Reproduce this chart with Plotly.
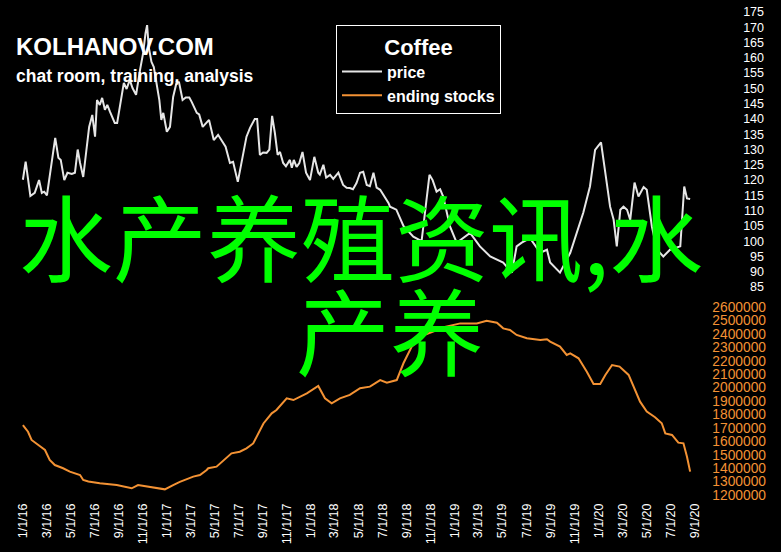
import plotly.graph_objects as go

price_dates = ["2016-01-01","2016-01-08","2016-01-20","2016-01-31","2016-02-11","2016-02-18","2016-02-24","2016-03-02","2016-03-23","2016-03-31","2016-04-06","2016-04-15","2016-04-23","2016-05-04","2016-05-12","2016-05-19","2016-05-25","2016-06-02","2016-06-17","2016-06-25","2016-07-02","2016-07-07","2016-07-14","2016-07-20","2016-07-27","2016-08-02","2016-08-09","2016-08-21","2016-08-27","2016-09-07","2016-09-13","2016-09-20","2016-09-28","2016-10-05","2016-10-14","2016-10-24","2016-11-01","2016-11-07","2016-11-11","2016-11-15","2016-11-22","2016-11-28","2016-12-05","2016-12-12","2016-12-17","2016-12-22","2016-12-31","2017-01-08","2017-01-16","2017-01-25","2017-01-31","2017-02-09","2017-02-17","2017-02-26","2017-03-04","2017-03-17","2017-03-23","2017-04-01","2017-04-17","2017-04-29","2017-05-10","2017-05-21","2017-05-29","2017-06-09","2017-06-17","2017-06-29","2017-07-09","2017-07-21","2017-07-30","2017-08-11","2017-08-17","2017-08-24","2017-09-01","2017-09-10","2017-09-17","2017-09-24","2017-10-01","2017-10-08","2017-10-14","2017-10-22","2017-10-29","2017-11-08","2017-11-13","2017-11-18","2017-11-25","2017-12-02","2017-12-10","2017-12-19","2017-12-29","2018-01-09","2018-01-19","2018-01-23","2018-02-01","2018-02-08","2018-02-18","2018-02-26","2018-03-11","2018-03-23","2018-04-01","2018-04-09","2018-04-17","2018-04-26","2018-05-05","2018-05-13","2018-05-22","2018-05-30","2018-06-08","2018-06-16","2018-06-25","2018-07-03","2018-07-16","2018-07-20","2018-08-05","2018-08-23","2018-09-17","2018-10-08","2018-10-28","2018-11-05","2018-11-15","2018-11-24","2018-12-02","2018-12-19","2019-01-05","2019-02-08","2019-03-05","2019-03-31","2019-05-03","2019-05-25","2019-06-06","2019-06-19","2019-07-10","2019-08-05","2019-08-22","2019-08-30","2019-09-24","2019-10-20","2019-11-22","2019-12-09","2019-12-22","2020-01-06","2020-01-16","2020-01-29","2020-02-07","2020-02-15","2020-02-24","2020-03-03","2020-03-12","2020-03-20","2020-03-31","2020-04-10","2020-04-23","2020-05-01","2020-05-14","2020-05-27","2020-06-12","2020-06-29","2020-07-25","2020-08-04","2020-08-11","2020-08-19"]
price_values = [120.1,126,114.8,115.8,120,115.8,116.2,115,133.8,127.3,126.6,120,122.4,122,122.4,130,125.6,121,137.4,141.3,134.2,146.2,144.6,146.9,143,144.6,142.3,138.7,138.7,147.2,151.8,149.8,152.8,150.1,147.9,156,161.6,168.1,170.7,163.6,158.7,157,151.8,146.2,139.7,142,135.8,137.4,147.2,152.1,152,146.2,147,147,145.6,142,141.5,137.4,139.7,133.1,134.8,132.5,130.9,125.6,126,119.4,125.6,134.2,137.1,140,140,128.2,129,128.9,130,141,135.4,128.2,129.2,125.6,124.5,126.6,124,126.6,124.3,125.6,129.2,122.4,120,127.6,122.4,121.8,125,120.8,121.7,120.4,122.4,118.4,117.5,117.4,117,119,122.4,122.7,118.4,118,122.4,117.5,116.8,115.2,112.5,111.3,110.3,105,101.5,100,121.7,120,116.2,117,114.5,104.8,99.5,102.7,98.3,95,93,89.7,98.3,99.5,101,96.2,97.2,93,89.7,96.2,109.3,117.9,129.9,132.3,122.4,111.3,107,98.3,110.3,111.3,110.3,107,119.2,114.6,117.7,116.8,104.8,97.2,95,97.2,98.3,117.9,114,113.8]

stock_dates = ["2016-01-01","2016-01-14","2016-01-23","2016-02-13","2016-02-26","2016-03-09","2016-03-22","2016-04-12","2016-04-29","2016-05-25","2016-06-02","2016-06-15","2016-07-14","2016-08-26","2016-10-03","2016-10-19","2016-11-26","2016-12-26","2017-01-16","2017-02-02","2017-03-08","2017-03-25","2017-04-11","2017-04-15","2017-05-06","2017-06-13","2017-07-04","2017-07-21","2017-08-07","2017-09-02","2017-09-23","2017-10-05","2017-10-31","2017-11-17","2017-12-21","2018-01-19","2018-02-05","2018-02-22","2018-03-15","2018-04-09","2018-05-05","2018-05-30","2018-06-25","2018-07-12","2018-08-06","2018-08-23","2018-09-13","2018-10-16","2018-12-06","2019-01-14","2019-02-25","2019-03-22","2019-04-17","2019-05-03","2019-05-20","2019-06-06","2019-07-02","2019-08-05","2019-08-22","2019-08-30","2019-09-24","2019-10-11","2019-10-20","2019-11-10","2019-12-01","2019-12-18","2020-01-04","2020-01-17","2020-02-03","2020-02-22","2020-03-16","2020-04-14","2020-05-01","2020-05-22","2020-06-08","2020-06-17","2020-07-04","2020-07-20","2020-08-02","2020-08-11","2020-08-19"]
stock_values = [1721000,1671000,1610000,1560000,1535000,1461000,1423000,1399000,1374000,1349000,1312000,1300000,1287000,1274000,1250000,1274000,1255000,1242000,1274000,1298000,1337000,1349000,1386000,1399000,1411000,1510000,1522000,1547000,1584000,1733000,1808000,1833000,1920000,1907000,1957000,2012000,1920000,1883000,1920000,1945000,1995000,2007000,2056000,2036000,2056000,2181000,2305000,2392000,2451000,2478000,2478000,2498000,2483000,2441000,2429000,2392000,2367000,2354000,2360000,2342000,2305000,2243000,2255000,2218000,2118000,2027000,2027000,2094000,2168000,2156000,2094000,1895000,1821000,1779000,1734000,1659000,1647000,1590000,1585000,1485000,1374000]

price_ticks = list(range(85, 180, 5))
stock_ticks = list(range(1200000, 2700000, 100000))
stock_ticktext = [str(v) for v in stock_ticks]

PRICE_COLOR = "#e6e6e6"
STOCK_COLOR = "#f39234"

fig = go.Figure()
fig.add_trace(go.Scatter(x=price_dates, y=price_values, mode="lines", name="price",
                         line=dict(color=PRICE_COLOR, width=2), yaxis="y"))
fig.add_trace(go.Scatter(x=stock_dates, y=stock_values, mode="lines", name="ending stocks",
                         line=dict(color=STOCK_COLOR, width=2), yaxis="y2"))

L, R, T, B = 15, 8, 0, 52
W, H = 781, 552
PW, PH = W - L - R, H - T - B

def px(x):
    return (x - L) / PW

def py(y):
    return 1 - (y - T) / PH

fig.update_layout(
    width=W, height=H,
    margin=dict(l=L, r=R, t=T, b=B, autoexpand=False),
    paper_bgcolor="black", plot_bgcolor="black",
    font=dict(family="Liberation Sans, Arial", color="white"),
    xaxis=dict(domain=[0, px(700)], range=["2015-12-12", "2020-09-13"],
               type="date", showgrid=False, zeroline=False, showline=False,
               tick0="2016-01-01", dtick="M2", tickformat="%-m/%-d/%y",
               tickangle=-90, ticks="", automargin=False,
               tickfont=dict(size=12.5, color="white")),
    yaxis=dict(range=[15.29, 178.93], tickvals=price_ticks, showgrid=False,
               zeroline=False, showline=False, side="left", anchor="free",
               position=px(764), ticks="", automargin=False,
               tickfont=dict(size=12.5, color="white")),
    yaxis2=dict(range=[1162766, 4886170], tickvals=stock_ticks, ticktext=stock_ticktext,
                overlaying="y", showgrid=False, zeroline=False, showline=False,
                side="left", anchor="free", position=px(766), ticks="", automargin=False,
                tickfont=dict(size=13.8, color=STOCK_COLOR)),
    legend=dict(x=px(336), y=py(25), xanchor="left", yanchor="top",
                bgcolor="black", bordercolor="white", borderwidth=1,
                font=dict(size=16, color="white", weight="bold"),
                title=dict(text="<b>Coffee</b>", side="top center",
                           font=dict(size=22, color="white")),
                tracegroupgap=0, itemwidth=40),
    showlegend=True,
)

fig.add_annotation(text="<b>KOLHANOV.COM</b>", xref="paper", yref="paper",
                   x=px(14), y=py(47), xanchor="left", yanchor="middle",
                   showarrow=False, font=dict(size=24, color="white"))
fig.add_annotation(text="<b>chat room, training, analysis</b>", xref="paper", yref="paper",
                   x=px(14), y=py(76), xanchor="left", yanchor="middle",
                   showarrow=False, font=dict(size=17.5, color="white"))

fig.add_annotation(text="水产养殖资讯,水", xref="paper", yref="paper",
                   x=px(361), y=py(234), xanchor="center", yanchor="middle",
                   showarrow=False,
                   font=dict(size=94, color="#00ff00", family="Noto Sans CJK SC"))
fig.add_annotation(text="产养", xref="paper", yref="paper",
                   x=px(390), y=py(328), xanchor="center", yanchor="middle",
                   showarrow=False,
                   font=dict(size=94, color="#00ff00", family="Noto Sans CJK SC"))

fig.write_html("out.html", config={"displayModeBar": False},
               post_script="document.body.style.margin='0px';")
